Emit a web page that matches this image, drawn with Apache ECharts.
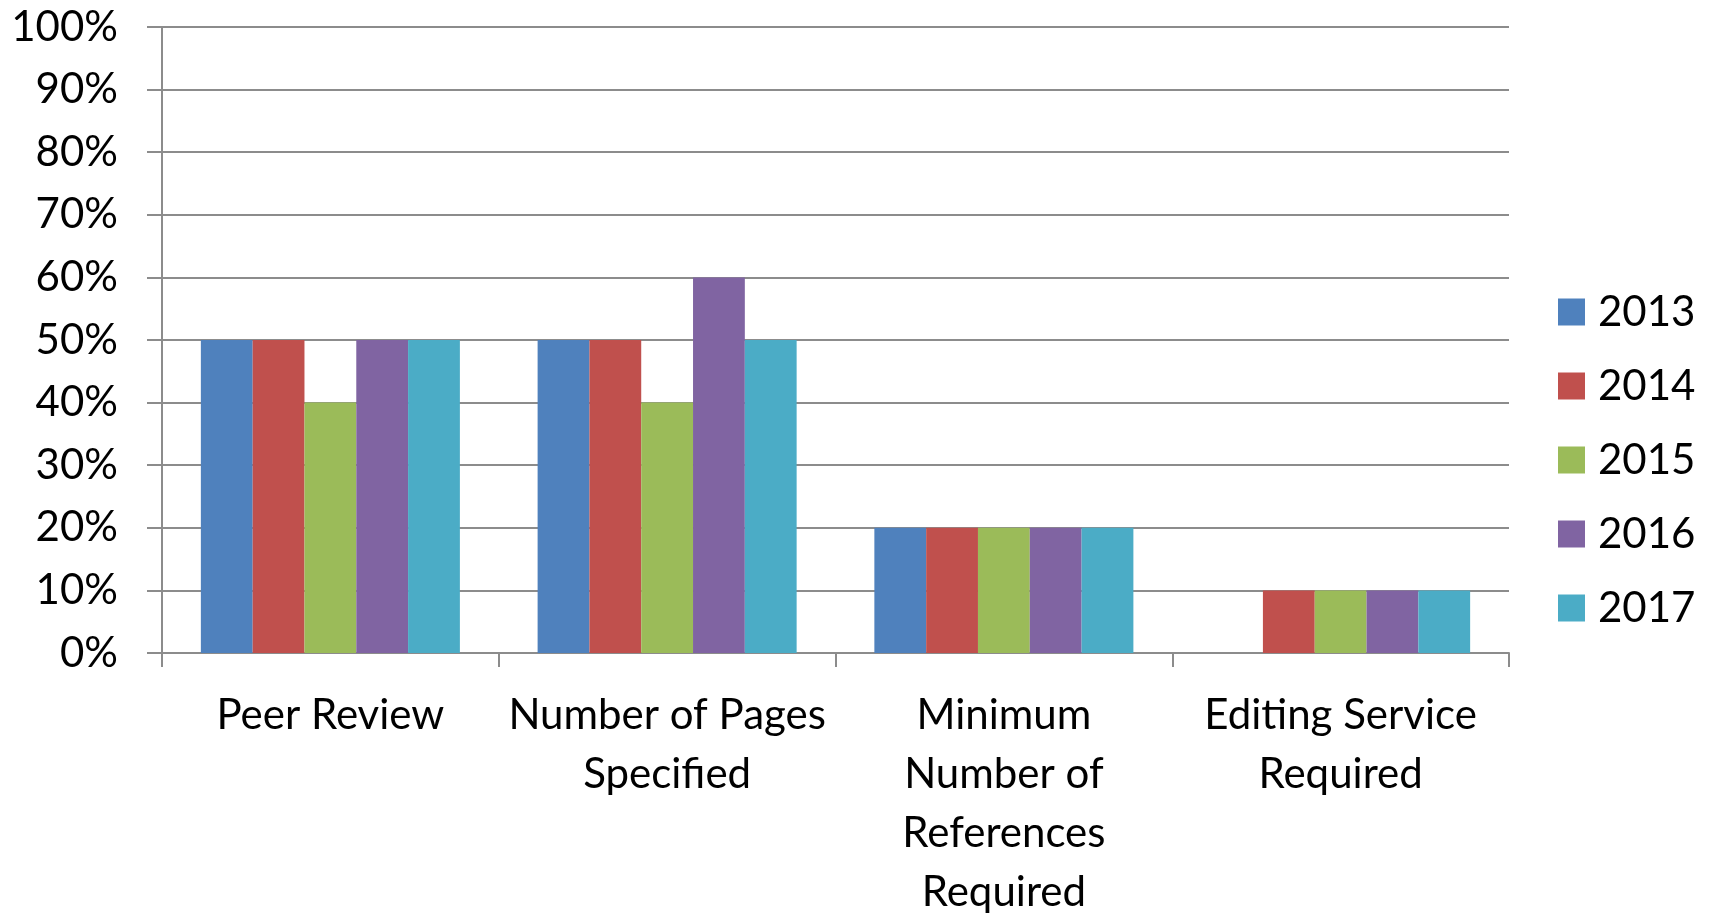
<!DOCTYPE html>
<html>
<head>
<meta charset="utf-8">
<script src="https://cdn.jsdelivr.net/npm/echarts@6/dist/echarts.min.js"></script>
<style>
  html, body { margin: 0; padding: 0; background: #fff; overflow: hidden; }
  #chart { width: 1709px; height: 913px; }
</style>
</head>
<body>
<div id="chart"></div>
<script>
// Requirement categories (line breaks are how the axis labels wrap)
const categories = [
  'Peer Review',
  'Number of Pages\nSpecified',
  'Minimum\nNumber of\nReferences\nRequired',
  'Editing Service\nRequired'
];
const years = ['2013', '2014', '2015', '2016', '2017'];

// Share of calls specifying each requirement, in percent
const v2013 = [50, 50, 20, 0];
const v2014 = [50, 50, 20, 10];
const v2015 = [40, 40, 20, 10];
const v2016 = [50, 60, 20, 10];
const v2017 = [50, 50, 20, 10];

const yTicks = { min: 0, max: 100, interval: 10 };

const colors = ['#4F81BD', '#C0504D', '#9BBB59', '#8064A2', '#4BACC6'];
const values = [v2013, v2014, v2015, v2016, v2017];

const FONT = 'Lato';
const FONT_SIZE = 42;
const GRID_COLOR = '#8c8c8c';

const chart = echarts.init(document.getElementById('chart'), null, { renderer: 'canvas' });

chart.setOption({
  animation: false,
  textStyle: { fontFamily: FONT, color: '#000' },
  // fixed plot box; the last category label is allowed to run to the bottom edge
  grid: { left: 162, width: 1347, top: 27, height: 626, containLabel: false, outerBoundsMode: 'none' },
  legend: {
    orient: 'vertical',
    left: 1558,
    top: 291,
    padding: 0,
    itemWidth: 27,
    itemHeight: 27,
    itemGap: 32,
    icon: 'rect',
    data: years,
    textStyle: { fontFamily: FONT, fontSize: FONT_SIZE, color: '#000', padding: [0, 0, 0, 8] }
  },
  xAxis: {
    type: 'category',
    data: categories,
    axisLine: { show: true, lineStyle: { color: GRID_COLOR, width: 2 } },
    axisTick: { show: true, length: 14, lineStyle: { color: GRID_COLOR, width: 2 } },
    axisLabel: {
      fontFamily: FONT, fontSize: FONT_SIZE, color: '#000',
      lineHeight: 59, margin: 33, interval: 0
    }
  },
  yAxis: {
    type: 'value',
    min: yTicks.min,
    max: yTicks.max,
    interval: yTicks.interval,
    axisLine: { show: true, lineStyle: { color: GRID_COLOR, width: 2 } },
    axisTick: { show: true, inside: false, length: 15, lineStyle: { color: GRID_COLOR, width: 2 } },
    splitLine: { show: true, lineStyle: { color: GRID_COLOR, width: 2 } },
    axisLabel: {
      fontFamily: FONT, fontSize: FONT_SIZE, color: '#000', margin: 44,
      formatter: '{value}%'
    }
  },
  series: years.map((y, i) => ({
    name: y,
    type: 'bar',
    data: values[i],
    barGap: '0%',
    barCategoryGap: '23.08%',
    itemStyle: { color: colors[i] }
  }))
});
</script>
</body>
</html>
